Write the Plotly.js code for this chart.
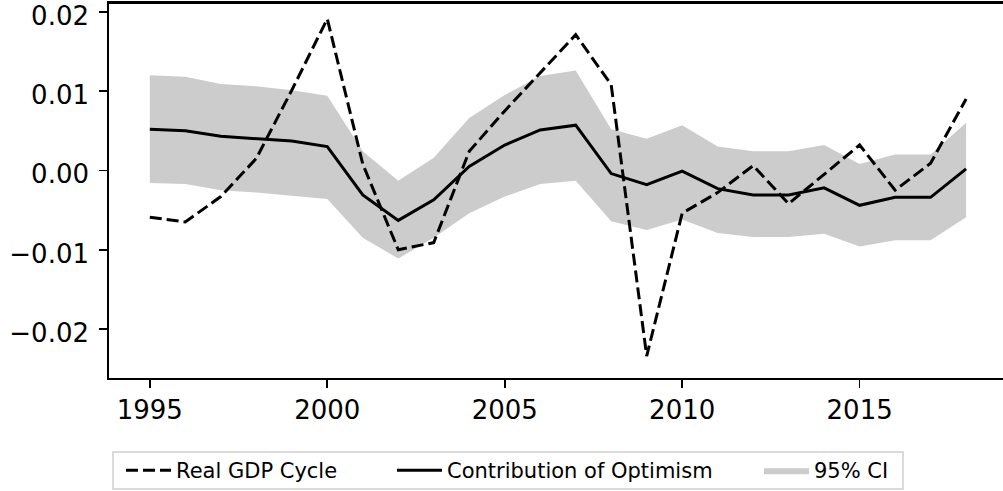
<!DOCTYPE html>
<html>
<head>
<meta charset="utf-8">
<script src="https://cdn.plot.ly/plotly-3.0.1.min.js"></script>
<style>html,body{margin:0;padding:0;background:#fff;overflow:hidden}#chart{width:1003px;height:491px}</style>
</head>
<body>
<div id="chart"></div>
<script>
const years = [1995,1996,1997,1998,1999,2000,2001,2002,2003,2004,2005,2006,2007,2008,2009,2010,2011,2012,2013,2014,2015,2016,2017,2018];
const gdpCycle = [-0.0059,-0.0065,-0.0033,0.0015,0.0101,0.0191,0.0008,-0.0100,-0.0091,0.0024,0.0075,0.0123,0.0171,0.0108,-0.0234,-0.0054,-0.0028,0.0006,-0.0042,-0.0005,0.0032,-0.0025,0.0009,0.0090];
const optimism = [0.0052,0.0050,0.0043,0.0040,0.0037,0.0030,-0.0031,-0.0063,-0.0037,0.0005,0.0032,0.0051,0.0057,-0.0004,-0.0018,-0.0001,-0.0023,-0.0031,-0.0031,-0.0022,-0.0044,-0.0034,-0.0034,0.0002];
const ciUpper = [0.0120,0.0118,0.0109,0.0106,0.0101,0.0094,0.0024,-0.0013,0.0016,0.0066,0.0095,0.0119,0.0126,0.0052,0.0040,0.0057,0.0030,0.0024,0.0024,0.0032,0.0008,0.0020,0.0020,0.0060];
const ciLower = [-0.0016,-0.0017,-0.0025,-0.0028,-0.0032,-0.0036,-0.0085,-0.0111,-0.0085,-0.0054,-0.0033,-0.0017,-0.0013,-0.0064,-0.0075,-0.0062,-0.0079,-0.0084,-0.0084,-0.0080,-0.0096,-0.0088,-0.0088,-0.0059];
const xTicks = [1995,2000,2005,2010,2015];
const yTicks = [-0.02,-0.01,0,0.01,0.02];
const yTickText = ['\u22120.02','\u22120.01','0.00','0.01','0.02'];

const font = {family: 'DejaVu Sans', color: '#000'};
const traces = [
  {x: years, y: ciLower, type: 'scatter', mode: 'lines', line: {width: 0, color: 'rgba(0,0,0,0)'}, showlegend: false, hoverinfo: 'skip'},
  {x: years, y: ciUpper, type: 'scatter', mode: 'lines', fill: 'tonexty', fillcolor: '#cccccc', line: {width: 0, color: 'rgba(0,0,0,0)'}, name: '95% CI', legend: 'legend3'},
  {x: years, y: gdpCycle, type: 'scatter', mode: 'lines', line: {color: '#000', width: 3, dash: '12px,5px'}, name: 'Real GDP Cycle', legend: 'legend'},
  {x: years, y: optimism, type: 'scatter', mode: 'lines', line: {color: '#000', width: 3}, name: 'Contribution of Optimism', legend: 'legend2'}
];
const W = 894, H = 375, L = 109, T = 3;
const px = v => (v - L) / W;
const py = v => (T + H - v) / H;
const legBase = {orientation: 'h', yanchor: 'middle', xanchor: 'left', y: py(470.5), bgcolor: 'rgba(0,0,0,0)', borderwidth: 0,
  font: {family: 'DejaVu Sans', size: 21, color: '#000'}, itemwidth: 45};
const axisCommon = {showgrid: false, zeroline: false, linecolor: '#000', linewidth: 1.8, ticks: 'outside', ticklen: 8, tickwidth: 1.6,
  tickcolor: '#000', tickfont: {family: 'DejaVu Sans', size: 26, color: '#000'}, ticklabeloverflow: 'allow'};
const layout = {
  width: 1003, height: 491,
  margin: {l: L, r: 0, t: T, b: 491 - T - H},
  paper_bgcolor: '#fff', plot_bgcolor: '#fff',
  font: font,
  showlegend: true,
  xaxis: Object.assign({}, axisCommon, {range: [1993.85, 2019.04], tickvals: xTicks, ticktext: xTicks.map(String), showline: true, mirror: true}),
  yaxis: Object.assign({}, axisCommon, {range: [-0.02617, 0.0211], tickvals: yTicks, ticktext: yTickText, showline: true, mirror: false,
    ticklabelstandoff: 5, ticklabelshift: 4}),
  legend: Object.assign({}, legBase, {x: px(121)}),
  legend2: Object.assign({}, legBase, {x: px(392)}),
  legend3: Object.assign({}, legBase, {x: px(759)}),
  shapes: [
    {type: 'line', xref: 'paper', yref: 'paper', x0: 0, x1: 1, y0: 1, y1: 1, line: {color: '#000', width: 1.8}, layer: 'above'},
    {type: 'rect', xref: 'paper', yref: 'paper', x0: px(113), x1: px(903), y0: py(489), y1: py(452),
      line: {color: '#d0d0d0', width: 1.5}, fillcolor: 'rgba(0,0,0,0)', layer: 'below'}
  ]
};
Plotly.newPlot('chart', traces, layout, {displayModeBar: false, staticPlot: true});
</script>
</body>
</html>
